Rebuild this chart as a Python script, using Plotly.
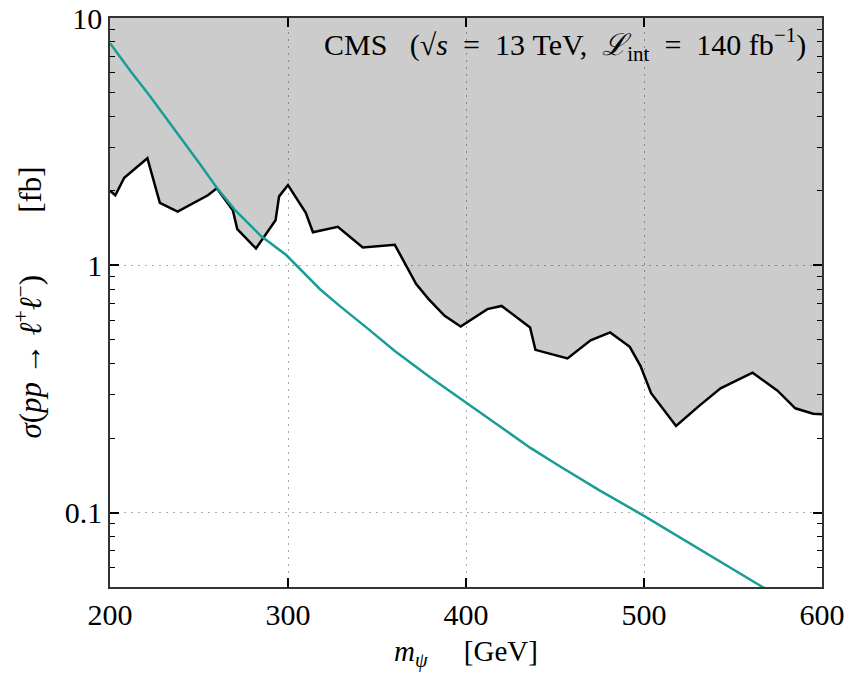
import numpy as np
import plotly.graph_objects as go

# Observed CMS upper limit (black curve)
limit_mass = [200, 203, 208, 221, 228, 238, 255, 260, 269, 271.5, 282, 293, 295, 300,
              310, 314, 328, 342, 360, 372, 379, 388, 397, 412, 420, 436, 439, 457,
              470, 481, 492, 498, 504, 518, 531, 543, 561, 575, 585, 595, 600]
limit_xsec = [2.0, 1.92, 2.26, 2.71, 1.79, 1.65, 1.92, 2.05, 1.67, 1.40, 1.17, 1.52, 1.90, 2.11,
              1.63, 1.36, 1.43, 1.18, 1.21, 0.84, 0.73, 0.625, 0.565, 0.665, 0.685, 0.56, 0.455, 0.42,
              0.497, 0.535, 0.468, 0.392, 0.304, 0.224, 0.270, 0.318, 0.368, 0.311, 0.264, 0.251, 0.250]

# Theory prediction (teal curve)
theory_mass = [200, 212, 222.5, 240, 250, 260, 270, 285, 299, 318, 329, 345, 360, 380,
               400, 420, 436, 452, 475, 500, 530, 566, 575]
theory_xsec = [7.91, 6.03, 4.83, 3.27, 2.6, 2.06, 1.68, 1.31, 1.10, 0.80, 0.685, 0.553, 0.45, 0.352,
               0.279, 0.222, 0.183, 0.155, 0.123, 0.097, 0.072, 0.050, 0.046]

x_ticks = [200, 300, 400, 500, 600]
y_ticks = [0.1, 1, 10]
y_ticktext = ["0.1", "1", "10"]
y_minor = [0.06, 0.07, 0.08, 0.09] + [0.2, 0.3, 0.4, 0.5, 0.6, 0.7, 0.8, 0.9] + [2, 3, 4, 5, 6, 7, 8, 9]
y_top = 10

FONT = "Liberation Serif, DejaVu Serif, serif"

fig = go.Figure()

# upper boundary for the excluded region
fig.add_trace(go.Scatter(x=limit_mass, y=[y_top] * len(limit_mass), mode="lines",
                         line=dict(width=0, color="rgba(0,0,0,0)"), showlegend=False,
                         hoverinfo="skip"))
fig.add_trace(go.Scatter(x=limit_mass, y=limit_xsec, mode="lines", fill="tonexty",
                         fillcolor="rgba(0,0,0,0.2)",
                         line=dict(color="black", width=2.5), showlegend=False))
fig.add_trace(go.Scatter(x=theory_mass, y=theory_xsec, mode="lines",
                         line=dict(color="#1a9c97", width=2.5),
                         showlegend=False))

fig.update_layout(
    width=855, height=677,
    margin=dict(l=110, r=33, t=18, b=90),
    paper_bgcolor="white", plot_bgcolor="white",
    font=dict(family=FONT, color="black", size=28),
    showlegend=False,
)

fig.update_xaxes(
    range=[200, 600], tickvals=x_ticks, ticktext=[str(v) for v in x_ticks],
    ticks="inside", ticklen=9, tickwidth=1.5, tickcolor="black",
    showline=True, linecolor="#333", linewidth=1.5, mirror="allticks",
    showgrid=True, gridcolor="#aaa", griddash="2px,5px", gridwidth=1,
    zeroline=False, automargin=False, ticklabeloverflow="allow",
    tickfont=dict(size=30, family=FONT),
    title=dict(text="<i>m</i><sub><i>ψ</i></sub>     [GeV]", font=dict(size=29, family=FONT), standoff=11),
)
fig.update_yaxes(
    type="log", range=[np.log10(0.05), np.log10(10)],
    tickvals=y_ticks, ticktext=y_ticktext,
    ticks="inside", ticklen=9, tickwidth=1.5, tickcolor="black",
    minor=dict(tickvals=y_minor, ticks="inside", ticklen=5, tickwidth=1, tickcolor="black", showgrid=False),
    showline=True, linecolor="#333", linewidth=1.5, mirror="allticks",
    showgrid=True, gridcolor="#aaa", griddash="2px,5px", gridwidth=1,
    zeroline=False, automargin=False, ticklabeloverflow="allow",
    tickfont=dict(size=30, family=FONT),
    title=dict(text="<i>σ</i>(<i>pp</i> → <i>ℓ</i><sup>+</sup><i>ℓ</i><sup>−</sup>)        [fb]",
               font=dict(size=31, family=FONT), standoff=14),
)

fig.add_annotation(
    xref="paper", yref="paper", x=0.981, y=0.953, xanchor="right", yanchor="middle",
    showarrow=False,
    text="CMS&nbsp;&nbsp;&nbsp;(√<i>s</i>&nbsp;&nbsp;=&nbsp;&nbsp;13&nbsp;TeV,&nbsp;&nbsp;<i>ℒ</i><sub>int</sub>&nbsp;&nbsp;=&nbsp;&nbsp;140&nbsp;fb<sup>−1</sup>)",
    font=dict(size=30, family=FONT, color="black"),
)

fig.write_html("out.html", config={"displayModeBar": False},
               post_script="document.body.style.margin='0';")
